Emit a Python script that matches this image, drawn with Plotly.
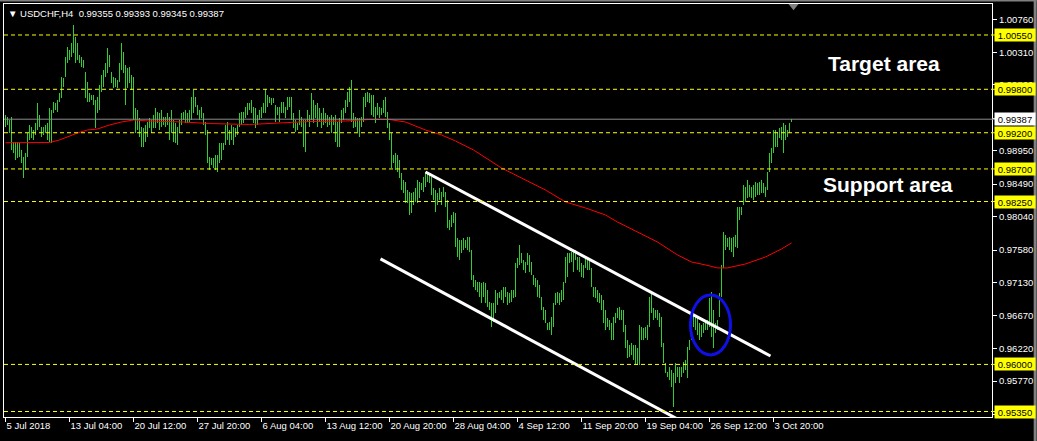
import plotly.graph_objects as go

# ---------------- data ----------------
bar_high = [
    0.9944,0.9942,0.9938,0.9942,0.9907,0.9907,0.9907,0.9906,0.9896,0.9886,
    0.9892,0.9920,0.9931,0.9928,0.9924,0.9934,0.9961,0.9944,0.9928,0.9928,
    0.9931,0.9934,0.9954,0.9951,0.9962,0.9961,0.9965,0.9975,0.9997,0.9996,
    1.0024,1.0038,1.0034,1.0044,1.0069,1.0052,1.0044,1.0027,1.0024,1.0020,
    1.0004,0.9990,0.9975,0.9972,0.9972,0.9965,0.9969,0.9986,1.0000,1.0007,
    1.0016,1.0037,1.0027,1.0004,0.9997,0.9996,0.9993,1.0017,1.0044,1.0032,
    1.0013,1.0009,1.0011,1.0000,0.9997,0.9954,0.9951,0.9940,0.9928,0.9927,
    0.9931,0.9935,0.9940,0.9938,0.9944,0.9954,0.9948,0.9947,0.9951,0.9942,
    0.9942,0.9947,0.9942,0.9951,0.9938,0.9934,0.9928,0.9938,0.9947,0.9948,
    0.9951,0.9947,0.9951,0.9969,0.9979,0.9969,0.9958,0.9951,0.9955,0.9947,
    0.9935,0.9924,0.9886,0.9885,0.9885,0.9889,0.9889,0.9906,0.9906,0.9906,
    0.9931,0.9935,0.9924,0.9931,0.9928,0.9927,0.9931,0.9947,0.9948,0.9948,
    0.9955,0.9961,0.9961,0.9965,0.9955,0.9954,0.9944,0.9951,0.9955,0.9961,
    0.9980,0.9972,0.9969,0.9968,0.9968,0.9958,0.9955,0.9955,0.9962,0.9962,
    0.9955,0.9969,0.9969,0.9969,0.9947,0.9938,0.9934,0.9951,0.9942,0.9938,
    0.9938,0.9951,0.9944,0.9975,0.9965,0.9958,0.9961,0.9954,0.9947,0.9954,
    0.9947,0.9944,0.9942,0.9944,0.9942,0.9944,0.9935,0.9940,0.9951,0.9954,
    0.9965,0.9976,0.9983,0.9993,0.9947,0.9942,0.9940,0.9940,0.9942,0.9969,
    0.9975,0.9976,0.9975,0.9972,0.9972,0.9955,0.9961,0.9955,0.9954,0.9965,
    0.9969,0.9948,0.9934,0.9920,0.9889,0.9892,0.9889,0.9882,0.9864,0.9855,
    0.9852,0.9841,0.9838,0.9837,0.9838,0.9844,0.9855,0.9852,0.9851,0.9859,
    0.9866,0.9866,0.9864,0.9859,0.9844,0.9841,0.9837,0.9844,0.9838,0.9845,
    0.9838,0.9827,0.9799,0.9806,0.9811,0.9809,0.9775,0.9772,0.9772,0.9775,
    0.9772,0.9776,0.9776,0.9758,0.9724,0.9717,0.9714,0.9714,0.9713,0.9714,
    0.9713,0.9703,0.9686,0.9685,0.9685,0.9703,0.9699,0.9700,0.9703,0.9707,
    0.9707,0.9700,0.9699,0.9703,0.9703,0.9740,0.9747,0.9765,0.9754,0.9744,
    0.9741,0.9754,0.9751,0.9741,0.9724,0.9720,0.9717,0.9710,0.9693,0.9679,
    0.9675,0.9657,0.9659,0.9666,0.9685,0.9699,0.9700,0.9699,0.9703,0.9714,
    0.9748,0.9754,0.9754,0.9755,0.9758,0.9758,0.9748,0.9748,0.9740,0.9737,
    0.9747,0.9748,0.9744,0.9733,0.9707,0.9707,0.9703,0.9699,0.9696,0.9689,
    0.9675,0.9664,0.9661,0.9657,0.9666,0.9671,0.9678,0.9679,0.9675,0.9675,
    0.9655,0.9634,0.9627,0.9630,0.9627,0.9627,0.9623,0.9655,0.9652,0.9651,
    0.9652,0.9655,0.9693,0.9700,0.9678,0.9675,0.9675,0.9671,0.9666,0.9630,
    0.9602,0.9590,0.9596,0.9592,0.9588,0.9602,0.9596,0.9596,0.9596,0.9603,
    0.9606,0.9624,0.9634,0.9648,0.9671,0.9668,0.9666,0.9657,0.9655,0.9657,
    0.9661,0.9661,0.9692,0.9700,0.9675,0.9657,0.9661,0.9699,0.9737,0.9783,
    0.9779,0.9775,0.9776,0.9775,0.9776,0.9779,0.9817,0.9817,0.9817,0.9848,
    0.9845,0.9855,0.9848,0.9845,0.9848,0.9852,0.9851,0.9852,0.9855,0.9851,
    0.9845,0.9866,0.9892,0.9899,0.9924,0.9924,0.9921,0.9927,0.9928,0.9934,
    0.9931,0.9924,0.9934,0.9939,
]
bar_low = [
    0.9928,0.9931,0.9920,0.9896,0.9892,0.9882,0.9885,0.9886,0.9878,0.9858,
    0.9868,0.9886,0.9910,0.9913,0.9910,0.9917,0.9924,0.9928,0.9914,0.9917,
    0.9920,0.9910,0.9907,0.9906,0.9947,0.9951,0.9948,0.9962,0.9968,0.9983,
    0.9997,1.0016,1.0020,1.0024,1.0030,1.0016,1.0020,1.0016,1.0011,1.0009,
    0.9968,0.9962,0.9962,0.9965,0.9958,0.9927,0.9947,0.9951,0.9976,0.9983,
    0.9997,1.0002,1.0011,0.9989,0.9982,0.9983,0.9982,0.9990,1.0007,1.0002,
    0.9958,0.9982,0.9989,0.9979,0.9938,0.9920,0.9924,0.9914,0.9900,0.9900,
    0.9907,0.9914,0.9927,0.9920,0.9927,0.9927,0.9934,0.9924,0.9928,0.9931,
    0.9928,0.9931,0.9910,0.9920,0.9907,0.9906,0.9903,0.9920,0.9931,0.9938,
    0.9934,0.9934,0.9935,0.9938,0.9947,0.9955,0.9944,0.9938,0.9940,0.9931,
    0.9917,0.9878,0.9868,0.9875,0.9871,0.9868,0.9866,0.9878,0.9882,0.9896,
    0.9903,0.9910,0.9903,0.9910,0.9903,0.9914,0.9917,0.9928,0.9931,0.9934,
    0.9940,0.9944,0.9951,0.9947,0.9934,0.9927,0.9931,0.9938,0.9940,0.9947,
    0.9947,0.9955,0.9961,0.9958,0.9961,0.9935,0.9944,0.9935,0.9947,0.9947,
    0.9940,0.9951,0.9955,0.9938,0.9927,0.9921,0.9924,0.9931,0.9928,0.9900,
    0.9893,0.9935,0.9928,0.9938,0.9934,0.9940,0.9928,0.9935,0.9927,0.9931,
    0.9934,0.9928,0.9931,0.9920,0.9931,0.9907,0.9900,0.9900,0.9934,0.9938,
    0.9947,0.9955,0.9962,0.9935,0.9927,0.9928,0.9921,0.9914,0.9928,0.9935,
    0.9955,0.9962,0.9961,0.9944,0.9942,0.9934,0.9944,0.9940,0.9944,0.9947,
    0.9942,0.9927,0.9910,0.9871,0.9878,0.9868,0.9866,0.9858,0.9841,0.9837,
    0.9823,0.9823,0.9806,0.9809,0.9820,0.9824,0.9823,0.9830,0.9841,0.9838,
    0.9845,0.9852,0.9851,0.9834,0.9827,0.9811,0.9820,0.9827,0.9820,0.9831,
    0.9817,0.9788,0.9786,0.9790,0.9795,0.9762,0.9748,0.9744,0.9754,0.9758,
    0.9761,0.9758,0.9755,0.9717,0.9707,0.9703,0.9700,0.9693,0.9685,0.9693,
    0.9685,0.9679,0.9675,0.9652,0.9659,0.9671,0.9682,0.9692,0.9689,0.9685,
    0.9693,0.9682,0.9685,0.9686,0.9692,0.9693,0.9733,0.9737,0.9740,0.9730,
    0.9726,0.9737,0.9728,0.9724,0.9710,0.9707,0.9693,0.9692,0.9675,0.9661,
    0.9657,0.9648,0.9648,0.9641,0.9652,0.9682,0.9685,0.9682,0.9686,0.9689,
    0.9713,0.9721,0.9740,0.9741,0.9728,0.9744,0.9730,0.9728,0.9721,0.9720,
    0.9733,0.9730,0.9730,0.9707,0.9693,0.9692,0.9686,0.9685,0.9675,0.9657,
    0.9648,0.9652,0.9648,0.9634,0.9634,0.9657,0.9664,0.9661,0.9661,0.9645,
    0.9623,0.9609,0.9610,0.9613,0.9606,0.9599,0.9599,0.9599,0.9634,0.9634,
    0.9637,0.9634,0.9652,0.9671,0.9661,0.9664,0.9661,0.9652,0.9624,0.9602,
    0.9588,0.9583,0.9579,0.9569,0.9541,0.9574,0.9583,0.9574,0.9583,0.9588,
    0.9592,0.9581,0.9620,0.9634,0.9652,0.9648,0.9641,0.9634,0.9638,0.9644,
    0.9648,0.9648,0.9652,0.9638,0.9623,0.9644,0.9648,0.9666,0.9693,0.9733,
    0.9758,0.9762,0.9758,0.9755,0.9748,0.9762,0.9761,0.9799,0.9806,0.9820,
    0.9824,0.9830,0.9831,0.9830,0.9827,0.9831,0.9834,0.9834,0.9837,0.9837,
    0.9831,0.9841,0.9866,0.9878,0.9892,0.9900,0.9900,0.9913,0.9910,0.9892,
    0.9910,0.9914,0.9920,0.9935,
]
bar_index = list(range(len(bar_high)))

# moving average (red), sampled along the bar axis
ma_bar = [0, 22, 27, 32, 36, 41, 46, 52, 58, 64, 72, 89, 102, 122, 138, 152, 170, 182, 192, 200,
          205, 210, 218, 225, 234, 240, 248, 254, 260, 270, 280, 290, 300, 306, 316, 326, 336, 343,
          350, 356, 361, 370, 380, 388, 393]
ma_value = [0.99062, 0.99065, 0.99100, 0.99155, 0.99196, 0.99238, 0.99252, 0.99307, 0.99348, 0.99376,
            0.99362, 0.99348, 0.99327, 0.99314, 0.99335, 0.99355, 0.99362, 0.99383, 0.99383, 0.99348,
            0.99293, 0.99238, 0.99169, 0.99086, 0.98962, 0.98851, 0.98713, 0.98630, 0.98548, 0.98409,
            0.98244, 0.98161, 0.98064, 0.97967, 0.97829, 0.97691, 0.97512, 0.97415, 0.97374, 0.97333,
            0.97333, 0.97388, 0.97484, 0.97595, 0.97678]

# descending channel
channel_upper_bar = [210, 382.5]
channel_upper_price = [0.98658, 0.96117]
channel_lower_bar = [187.5, 340]
channel_lower_price = [0.97457, 0.95186]

# breakout ellipse
ellipse_bar = [342.5, 362.5]
ellipse_price = [0.96131, 0.96959]

level_prices = [1.00550, 0.99800, 0.99200, 0.98700, 0.98250, 0.96000, 0.95350]
bid_price = 0.99387

y_tick_values = [1.00760, 1.00310, 0.99860, 0.99400, 0.98950, 0.98490, 0.98040, 0.97580,
                 0.97130, 0.96670, 0.96220, 0.95770, 0.95310]
x_tick_bars = [0, 32, 64, 96, 128, 160, 192, 224, 256, 288, 320, 352, 384]
x_tick_labels = ["5 Jul 2018", "13 Jul 04:00", "20 Jul 12:00", "27 Jul 20:00", "6 Aug 04:00",
                 "13 Aug 12:00", "20 Aug 20:00", "28 Aug 04:00", "4 Sep 12:00", "11 Sep 20:00",
                 "19 Sep 04:00", "26 Sep 12:00", "3 Oct 20:00"]

header_text = "\u25BC USDCHF,H4  0.99355 0.99393 0.99345 0.99387"
target_label = ("Target area", 439, 1.00163)
support_label = ("Support area", 441, 0.98479)

x_range = [-0.75, 493.25]
y_range = [0.95274, 1.00978]

# ---------------- figure ----------------
FONT = "Liberation Sans"
BAR_COLOR = "#32cd32"

fig = go.Figure()

fig.add_trace(go.Bar(
    x=bar_index,
    y=[h - l for h, l in zip(bar_high, bar_low)],
    base=bar_low,
    width=0.5,
    marker=dict(color=BAR_COLOR, line=dict(width=0)),
    hoverinfo="skip",
))

fig.add_trace(go.Scatter(
    x=ma_bar, y=ma_value, mode="lines",
    line=dict(color="#ff0000", width=1),
    hoverinfo="skip",
))

for bx, py in ((channel_upper_bar, channel_upper_price), (channel_lower_bar, channel_lower_price)):
    fig.add_trace(go.Scatter(
        x=bx, y=py, mode="lines",
        line=dict(color="#ffffff", width=3),
        hoverinfo="skip",
    ))

shapes = []
for p in level_prices:
    shapes.append(dict(type="line", xref="paper", yref="y", x0=0, x1=1.004, y0=p, y1=p,
                       line=dict(color="#ffff00", width=1, dash="4px,3px"), layer="above"))
shapes.append(dict(type="line", xref="paper", yref="y", x0=0, x1=1.004, y0=bid_price, y1=bid_price,
                   line=dict(color="#8c8c8c", width=1), layer="above"))
shapes.append(dict(type="circle", xref="x", yref="y",
                   x0=ellipse_bar[0], x1=ellipse_bar[1], y0=ellipse_price[0], y1=ellipse_price[1],
                   line=dict(color="#1010e6", width=3), layer="above"))
# chart-shift marker at the top
shapes.append(dict(type="path", xref="x", yref="paper",
                   path="M 391.5,1 L 396.5,1 L 394,0.985 Z",
                   fillcolor="#808080", line=dict(width=0), layer="above"))
# window edges
shapes.append(dict(type="line", xref="paper", yref="paper", x0=-0.01, x1=1.045, y0=1.0085, y1=1.0085,
                   line=dict(color="#808080", width=2)))
shapes.append(dict(type="line", xref="paper", yref="paper", x0=1.0437, x1=1.0437, y0=-0.06, y1=1.01,
                   line=dict(color="#808080", width=3)))

annotations = []
for p in level_prices:
    annotations.append(dict(xref="paper", yref="y", x=1, y=p, xanchor="left", yanchor="middle",
                            xshift=2, text=f"{p:.5f}", showarrow=False, bgcolor="#ffff00",
                            width=38, height=10, borderpad=1,
                            font=dict(family=FONT, size=9.5, color="#000000")))
annotations.append(dict(xref="paper", yref="y", x=1, y=bid_price, xanchor="left", yanchor="middle",
                        xshift=2, text=f"{bid_price:.5f}", showarrow=False, bgcolor="#ffffff",
                        width=38, height=10, borderpad=1,
                        font=dict(family=FONT, size=9.5, color="#000000")))
annotations.append(dict(xref="paper", yref="paper", x=0, y=1, xanchor="left", yanchor="top",
                        xshift=2, yshift=-2, text=header_text, showarrow=False,
                        font=dict(family=FONT, size=9.5, color="#ffffff")))
for txt, bx, py in (target_label, support_label):
    annotations.append(dict(xref="x", yref="y", x=bx, y=py, text=f"<b>{txt}</b>", showarrow=False,
                            xanchor="center", yanchor="middle",
                            font=dict(family=FONT, size=21, color="#ffffff")))

fig.update_layout(
    width=1037, height=441,
    margin=dict(l=4, r=45, t=4, b=24, autoexpand=False),
    paper_bgcolor="#000000", plot_bgcolor="#000000",
    showlegend=False,
    bargap=0,
    shapes=shapes,
    annotations=annotations,
    xaxis=dict(
        range=x_range, showgrid=False, zeroline=False, automargin=False,
        showline=True, linecolor="#ffffff", linewidth=1, mirror=True,
        ticks="outside", ticklen=4, tickcolor="#ffffff", tickwidth=1,
        tickvals=x_tick_bars, ticktext=x_tick_labels, tickangle=0,
        ticklabelposition="outside right",
        tickfont=dict(family=FONT, size=9.5, color="#ffffff"),
        fixedrange=True,
    ),
    yaxis=dict(
        side="right", range=y_range, showgrid=False, zeroline=False, automargin=False,
        showline=True, linecolor="#ffffff", linewidth=1, mirror=True,
        ticks="outside", ticklen=4, tickcolor="#ffffff", tickwidth=1,
        tickvals=y_tick_values, tickformat=".5f",
        tickfont=dict(family=FONT, size=9.5, color="#ffffff"),
        fixedrange=True,
    ),
)

fig.write_html(
    "out.html",
    config={"displayModeBar": False},
    post_script="document.body.style.margin='0px';document.body.style.background='#000000';",
)
